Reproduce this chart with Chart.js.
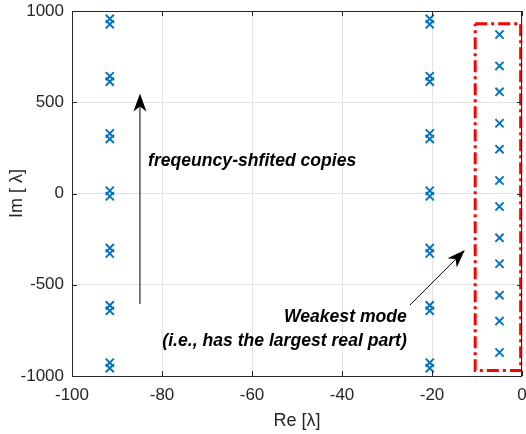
<!DOCTYPE html>
<html>
<head>
<meta charset="utf-8">
<script src="https://cdn.jsdelivr.net/npm/chart.js@4.4.1/dist/chart.umd.min.js"></script>
<style>
  body { margin: 0; background: #fff; }
  canvas { display: block; }
</style>
</head>
<body>
<canvas id="eigChart" width="526" height="434"></canvas>
<script>
// real parts of the eigenvalue columns
const reCopies = [-91.6, -20.5];
const reWeak = -5;

// imaginary parts (frequency-shifted copies come in close pairs)
const copyIm = [957, 927, 643, 613, 329, 299, 15, -15, -299, -329, -613, -643, -927, -957];
const weakIm = [871, 699, 557, 385, 243, 71, -71, -243, -385, -557, -699, -871];

// tick labels
const xTicks = [-100, -80, -60, -40, -20, 0];
const yTicks = [-1000, -500, 0, 500, 1000];

// red dash-dot box around the weakest mode
const boxX = [-10.4, -0.3, -0.3, -10.4, -10.4];
const boxY = [930, 930, -970, -970, 930];

// annotation arrows [start, tip] in data units
const arrowCopies = [[-84.9, -605], [-84.9, 548]];
const arrowWeak = [[-24.9, -611], [-12.7, -310]];

const FONT = "'Liberation Sans', Arial, sans-serif";
const AXIS_COLOR = '#262626';
const BLUE = '#0072BD';

function column(re, ims) {
    return ims.map(im => ({ x: re, y: im }));
}

function markerSet(points) {
    return {
        data: points,
        pointStyle: 'crossRot',
        pointRadius: 5.8,
        pointBorderWidth: 1.9,
        borderColor: BLUE,
        backgroundColor: BLUE,
        showLine: false
    };
}

// keep the plot box where the reference has it, labels may overflow
function noPadding(s) {
    s.paddingLeft = s.paddingRight = s.paddingTop = s.paddingBottom = 0;
}

// frame, inward ticks, arrows and text
const annotatePlugin = {
    id: 'annotate',
    afterDatasetsDraw(chart) {
        const { ctx, chartArea: a, scales: { x, y } } = chart;
        ctx.save();

        // frame
        ctx.strokeStyle = AXIS_COLOR;
        ctx.lineWidth = 1;
        ctx.strokeRect(a.left + 0.5, a.top + 0.5, a.right - a.left - 1, a.bottom - a.top);

        // inward ticks on all four sides
        const tl = 5;
        ctx.beginPath();
        xTicks.forEach(v => {
            const px = Math.round(x.getPixelForValue(v)) + 0.5;
            ctx.moveTo(px, a.bottom); ctx.lineTo(px, a.bottom - tl);
            ctx.moveTo(px, a.top); ctx.lineTo(px, a.top + tl);
        });
        yTicks.forEach(v => {
            const py = Math.round(y.getPixelForValue(v)) + 0.5;
            ctx.moveTo(a.left, py); ctx.lineTo(a.left + tl, py);
            ctx.moveTo(a.right, py); ctx.lineTo(a.right - tl, py);
        });
        ctx.stroke();

        // arrows
        function arrow(pts) {
            const x0 = x.getPixelForValue(pts[0][0]), y0 = y.getPixelForValue(pts[0][1]);
            const x1 = x.getPixelForValue(pts[1][0]), y1 = y.getPixelForValue(pts[1][1]);
            const ang = Math.atan2(y1 - y0, x1 - x0);
            const len = 18, half = 6.5, back = 13;
            ctx.strokeStyle = '#000';
            ctx.fillStyle = '#000';
            ctx.lineWidth = 1;
            ctx.beginPath();
            ctx.moveTo(x0, y0);
            ctx.lineTo(x1 - Math.cos(ang) * back, y1 - Math.sin(ang) * back);
            ctx.stroke();
            const bx = x1 - Math.cos(ang) * len, by = y1 - Math.sin(ang) * len;
            const nx = -Math.sin(ang), ny = Math.cos(ang);
            ctx.beginPath();
            ctx.moveTo(x1, y1);
            ctx.lineTo(bx + nx * half, by + ny * half);
            ctx.lineTo(x1 - Math.cos(ang) * back, y1 - Math.sin(ang) * back);
            ctx.lineTo(bx - nx * half, by - ny * half);
            ctx.closePath();
            ctx.fill();
        }
        arrow(arrowCopies);
        arrow(arrowWeak);

        // text
        ctx.fillStyle = '#000';
        ctx.font = 'italic bold 17.6px ' + FONT;
        ctx.textBaseline = 'middle';
        ctx.textAlign = 'left';
        ctx.fillText('freqeuncy-shfited copies', x.getPixelForValue(-83.1), y.getPixelForValue(178));
        ctx.textAlign = 'right';
        ctx.fillText('Weakest mode', x.getPixelForValue(-25.6), y.getPixelForValue(-677));
        ctx.fillText('(i.e., has the largest real part)', x.getPixelForValue(-25.6), y.getPixelForValue(-808));

        ctx.restore();
    }
};

const ctx = document.getElementById('eigChart').getContext('2d');

new Chart(ctx, {
    type: 'scatter',
    data: {
        datasets: [
            markerSet(column(reCopies[0], copyIm)),
            markerSet(column(reCopies[1], copyIm)),
            markerSet(column(reWeak, weakIm)),
            {
                data: boxX.map((v, i) => ({ x: v, y: boxY[i] })),
                showLine: true,
                borderColor: '#ff0000',
                borderWidth: 3,
                borderDash: [12, 4, 3, 4],
                pointRadius: 0,
                fill: false,
                clip: false
            }
        ]
    },
    options: {
        responsive: false,
        animation: false,
        devicePixelRatio: 1,
        layout: { autoPadding: false, padding: { top: 11, right: 4, left: 0, bottom: 0 } },
        plugins: {
            legend: { display: false },
            tooltip: { enabled: false }
        },
        scales: {
            x: {
                type: 'linear',
                min: -100,
                max: 0,
                afterBuildTicks: s => { s.ticks = xTicks.map(v => ({ value: v })); },
                afterFit: s => { s.height = 58; noPadding(s); },
                grid: { color: '#e3e3e3', drawTicks: false },
                border: { display: false },
                ticks: {
                    color: AXIS_COLOR,
                    font: { family: FONT, size: 17 },
                    padding: 9,
                    maxRotation: 0,
                    callback: v => String(v)
                },
                title: {
                    display: true,
                    text: 'Re [λ]',
                    color: AXIS_COLOR,
                    font: { family: FONT, size: 18 },
                    padding: { top: 0, bottom: 2 }
                }
            },
            y: {
                type: 'linear',
                min: -1000,
                max: 1000,
                afterBuildTicks: s => { s.ticks = yTicks.map(v => ({ value: v })); },
                afterFit: s => { s.width = 72; noPadding(s); },
                grid: { color: '#e3e3e3', drawTicks: false },
                border: { display: false },
                ticks: {
                    color: AXIS_COLOR,
                    font: { family: FONT, size: 17 },
                    padding: 8,
                    callback: v => String(v)
                },
                title: {
                    display: true,
                    text: 'Im [ λ]',
                    color: AXIS_COLOR,
                    font: { family: FONT, size: 18 },
                    padding: { top: 6, bottom: 0 }
                }
            }
        }
    },
    plugins: [annotatePlugin]
});
</script>
</body>
</html>
